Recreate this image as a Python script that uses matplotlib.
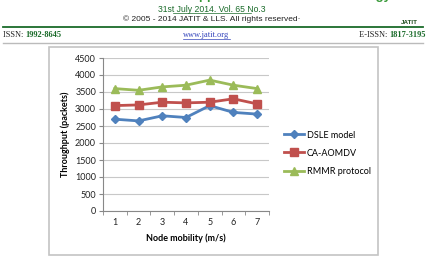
import matplotlib.pyplot as plt
from matplotlib.patches import Rectangle
from matplotlib.lines import Line2D

# data
mobility = [1, 2, 3, 4, 5, 6, 7]
dsle = [2700, 2650, 2800, 2750, 3100, 2900, 2850]
ca_aomdv = [3100, 3120, 3200, 3180, 3200, 3300, 3150]
rmmr = [3600, 3550, 3650, 3700, 3850, 3700, 3600]
yticks = [0, 500, 1000, 1500, 2000, 2500, 3000, 3500, 4000, 4500]

W, H = 436, 263
fig = plt.figure(figsize=(W / 100, H / 100), dpi=100)
fig.patch.set_facecolor('white')

def fx(px):
    return px / W

def fy(py):
    return 1 - py / H

# journal page header
green = '#1a6b2a'
fig.text(fx(206), fy(2.5), 'Journal of Theoretical and Applied Information Technology',
         ha='center', va='bottom', fontsize=9.5, fontweight='bold', color='#3a9a3a',
         family='Liberation Sans')
fig.text(fx(212), fy(9.5), '31st July 2014. Vol. 65 No.3', ha='center', va='center',
         fontsize=6.2, color=green, family='Liberation Sans')
fig.add_artist(Line2D([fx(173), fx(251)], [fy(13), fy(13)], color=green, lw=0.5))
fig.text(fx(212), fy(19.5), '© 2005 - 2014 JATIT & LLS. All rights reserved·', ha='center',
         va='center', fontsize=6, color='#222222', family='Liberation Sans')
fig.add_artist(Line2D([fx(3), fx(423)], [fy(27), fy(27)], color=green, lw=1.3))
fig.text(fx(3), fy(35), 'ISSN: ', ha='left', va='center', fontsize=6,
         family='Liberation Serif', color='#222222')
fig.text(fx(25), fy(35), '1992-8645', ha='left', va='center', fontsize=6,
         family='Liberation Serif', color=green, fontweight='bold')
fig.text(fx(206), fy(35), 'www.jatit.org', ha='center', va='center', fontsize=6,
         family='Liberation Serif', color='#3344bb')
fig.add_artist(Line2D([fx(183), fx(230)], [fy(39), fy(39)], color='#3344bb', lw=0.5))
fig.text(fx(389), fy(35), 'E-ISSN: ', ha='right', va='center', fontsize=6,
         family='Liberation Serif', color='#222222')
fig.text(fx(389), fy(35), '1817-3195', ha='left', va='center', fontsize=6,
         family='Liberation Serif', color=green, fontweight='bold')
fig.add_artist(Line2D([fx(3), fx(423)], [fy(43), fy(43)], color='#bbbbbb', lw=1.0))
fig.text(fx(409), fy(23), 'JATIT', ha='center', va='center', fontsize=4.5,
         fontweight='bold', color='#1a4a1a', family='Liberation Sans')

# chart border
fig.add_artist(Rectangle((fx(49), fy(255)), fx(329), 208 / H, transform=fig.transFigure,
                         fill=False, edgecolor='#c4c4c4', lw=1.2))

ax = fig.add_axes([fx(103), fy(211), fx(166), 153 / H])
ax.plot(mobility, dsle, color='#4F81BD', marker='D', markersize=4.5, lw=2, label='DSLE model')
ax.plot(mobility, ca_aomdv, color='#C0504D', marker='s', markersize=5.5, lw=2, label='CA-AOMDV')
ax.plot(mobility, rmmr, color='#9BBB59', marker='^', markersize=5.5, lw=2, label='RMMR protocol')

ax.set_xlim(0.5, 7.5)
ax.set_ylim(0, 4500)
ax.set_yticks(yticks)
ax.set_xticks(mobility)
ax.set_xticks([0.5 + i for i in range(8)], minor=True)
ax.yaxis.grid(True, color='#c8c8c8', lw=0.8)
ax.set_axisbelow(True)
for s in ['top', 'right']:
    ax.spines[s].set_visible(False)
ax.spines['left'].set_color('#888888')
ax.spines['bottom'].set_color('#888888')
ax.tick_params(axis='y', length=3, color='#888888', labelsize=6.5, pad=2)
ax.tick_params(axis='x', which='major', length=0, labelsize=6.5, pad=5)
ax.tick_params(axis='x', which='minor', length=3, color='#888888')
for lab in ax.get_xticklabels() + ax.get_yticklabels():
    lab.set_family('Lato')
    lab.set_color('#222222')

ax.set_ylabel('Throughput (packets)', fontsize=6.5, fontweight='bold', family='Lato', labelpad=4)
ax.set_xlabel('Node mobility (m/s)', fontsize=6.5, fontweight='bold', family='Lato', labelpad=5)

leg = ax.legend(loc='upper left', bbox_to_anchor=(fx(280), fy(127)),
                bbox_transform=fig.transFigure, frameon=False,
                prop={'family': 'Lato', 'size': 6.5}, handlelength=2.3, handletextpad=0.3,
                labelspacing=1.0, borderaxespad=0)

fig.savefig('out.png', dpi=100)
